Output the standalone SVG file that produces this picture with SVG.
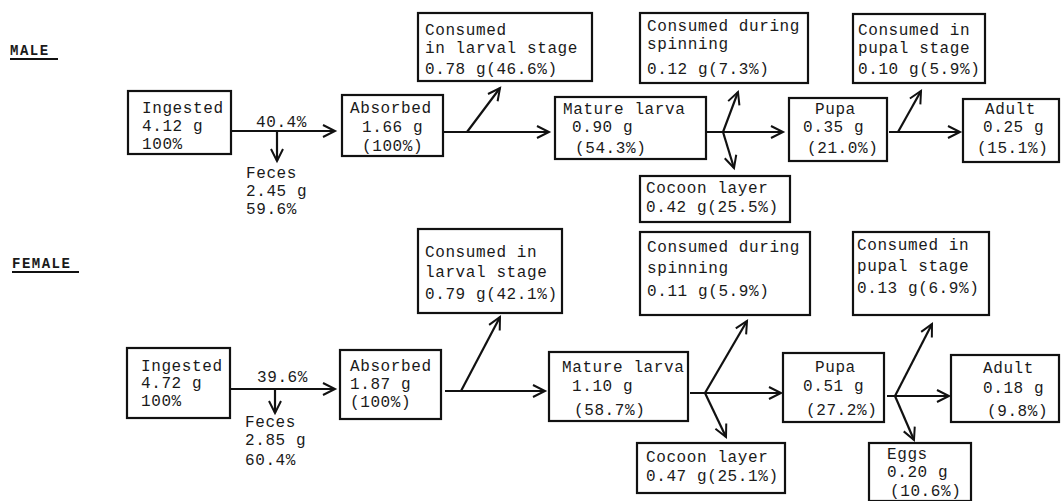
<svg xmlns="http://www.w3.org/2000/svg" width="1061" height="501" viewBox="0 0 1061 501">
<defs>
<marker id="arr" markerUnits="userSpaceOnUse" markerWidth="16" markerHeight="16" refX="13" refY="7" orient="auto" overflow="visible">
<path d="M1,1 L13,7 L1,13" fill="none" stroke="#111" stroke-width="2"/>
</marker>
<style>
rect{fill:none;stroke:#111;stroke-width:2.2}
text{font-family:"Liberation Mono","Courier New",monospace;font-size:16px;letter-spacing:0.6px;fill:#1a1a1a}
.lbl{font-size:14px;font-weight:bold;letter-spacing:1.5px}
.c line{stroke:#111;stroke-width:2.2;fill:none}
.ul{stroke:#111;stroke-width:2}
</style>
</defs>
<rect x="0" y="0" width="1061" height="501" style="fill:#fff;stroke:none"/>
<g id="labels">
<text class="lbl" x="10" y="55">MALE</text>
<line class="ul" x1="10" y1="59" x2="58" y2="59"/>
<text class="lbl" x="12" y="268">FEMALE</text>
<line class="ul" x1="12" y1="272" x2="79" y2="272"/>
</g>
<g class="c" id="connectors">
<line x1="231" y1="131" x2="335" y2="131" marker-end="url(#arr)"/>
<line x1="277" y1="131" x2="277" y2="161" marker-end="url(#arr)"/>
<line x1="443" y1="132" x2="549" y2="132" marker-end="url(#arr)"/>
<line x1="467" y1="132" x2="500" y2="88" marker-end="url(#arr)"/>
<line x1="706" y1="132" x2="783" y2="132" marker-end="url(#arr)"/>
<line x1="723" y1="132" x2="738" y2="92" marker-end="url(#arr)"/>
<line x1="723" y1="132" x2="734" y2="168" marker-end="url(#arr)"/>
<line x1="889" y1="132" x2="960" y2="132" marker-end="url(#arr)"/>
<line x1="898" y1="132" x2="921" y2="91" marker-end="url(#arr)"/>
<line x1="230" y1="389" x2="335" y2="389" marker-end="url(#arr)"/>
<line x1="275" y1="389" x2="275" y2="413" marker-end="url(#arr)"/>
<line x1="445" y1="391" x2="545" y2="391" marker-end="url(#arr)"/>
<line x1="461" y1="391" x2="500" y2="317" marker-end="url(#arr)"/>
<line x1="690" y1="393" x2="781" y2="393" marker-end="url(#arr)"/>
<line x1="705" y1="393" x2="747" y2="321" marker-end="url(#arr)"/>
<line x1="705" y1="393" x2="726" y2="437" marker-end="url(#arr)"/>
<line x1="887" y1="396" x2="949" y2="396" marker-end="url(#arr)"/>
<line x1="895" y1="396" x2="932" y2="324" marker-end="url(#arr)"/>
<line x1="895" y1="396" x2="914" y2="440" marker-end="url(#arr)"/>
</g>
<g id="m-ingested"><rect x="128" y="91" width="103" height="63"/>
<text x="142" y="113">Ingested</text><text x="142" y="131">4.12 g</text><text x="142" y="149">100%</text></g>
<g id="m-feces"><text x="246" y="178">Feces</text><text x="246" y="196">2.45 g</text><text x="246" y="214">59.6%</text></g>
<g id="m-pct"><text x="256" y="127">40.4%</text></g>
<g id="m-absorbed"><rect x="342" y="95" width="101" height="61"/>
<text x="350" y="113">Absorbed</text><text x="362" y="132">1.66 g</text><text x="362" y="151">(100%)</text></g>
<g id="m-larval"><rect x="418" y="13" width="174" height="68"/>
<text x="425" y="35">Consumed</text><text x="425" y="53">in larval stage</text><text x="425" y="74">0.78 g(46.6%)</text></g>
<g id="m-mature"><rect x="555" y="97" width="151" height="62"/>
<text x="563" y="114">Mature larva</text><text x="572" y="132">0.90 g</text><text x="575" y="153">(54.3%)</text></g>
<g id="m-spinning"><rect x="640" y="13" width="168" height="70"/>
<text x="647" y="31">Consumed during</text><text x="647" y="49">spinning</text><text x="647" y="74">0.12 g(7.3%)</text></g>
<g id="m-cocoon"><rect x="640" y="176" width="150" height="46"/>
<text x="646" y="193">Cocoon layer</text><text x="646" y="212">0.42 g(25.5%)</text></g>
<g id="m-pupa"><rect x="789" y="98" width="98" height="63"/>
<text x="815" y="114">Pupa</text><text x="803" y="132">0.35 g</text><text x="807" y="153">(21.0%)</text></g>
<g id="m-pupal"><rect x="853" y="14" width="132" height="69"/>
<text x="858" y="35">Consumed in</text><text x="858" y="53">pupal stage</text><text x="858" y="74">0.10 g(5.9%)</text></g>
<g id="m-adult"><rect x="963" y="99" width="96" height="63"/>
<text x="985" y="114">Adult</text><text x="983" y="132">0.25 g</text><text x="977" y="153">(15.1%)</text></g>
<g id="f-ingested"><rect x="127" y="348" width="103" height="70"/>
<text x="141" y="371">Ingested</text><text x="141" y="388">4.72 g</text><text x="141" y="406">100%</text></g>
<g id="f-pct"><text x="257" y="382">39.6%</text></g>
<g id="f-feces"><text x="245" y="427">Feces</text><text x="245" y="445">2.85 g</text><text x="245" y="465">60.4%</text></g>
<g id="f-absorbed"><rect x="340" y="350" width="101" height="69"/>
<text x="350" y="371">Absorbed</text><text x="350" y="389">1.87 g</text><text x="350" y="407">(100%)</text></g>
<g id="f-larval"><rect x="418" y="229" width="144" height="84"/>
<text x="425" y="257">Consumed in</text><text x="425" y="277">larval stage</text><text x="425" y="299">0.79 g(42.1%)</text></g>
<g id="f-mature"><rect x="549" y="352" width="139" height="69"/>
<text x="562" y="372">Mature larva</text><text x="572" y="391">1.10 g</text><text x="574" y="415">(58.7%)</text></g>
<g id="f-spinning"><rect x="640" y="232" width="170" height="83"/>
<text x="647" y="252">Consumed during</text><text x="647" y="273">spinning</text><text x="647" y="296">0.11 g(5.9%)</text></g>
<g id="f-cocoon"><rect x="637" y="443" width="148" height="50"/>
<text x="646" y="462">Cocoon layer</text><text x="646" y="481">0.47 g(25.1%)</text></g>
<g id="f-pupa"><rect x="783" y="353" width="101" height="69"/>
<text x="815" y="372">Pupa</text><text x="803" y="391">0.51 g</text><text x="806" y="415">(27.2%)</text></g>
<g id="f-pupal"><rect x="853" y="232" width="136" height="83"/>
<text x="857" y="250">Consumed in</text><text x="857" y="271">pupal stage</text><text x="857" y="293">0.13 g(6.9%)</text></g>
<g id="f-adult"><rect x="951" y="355" width="108" height="67"/>
<text x="983" y="373">Adult</text><text x="983" y="393">0.18 g</text><text x="987" y="416">(9.8%)</text></g>
<g id="f-eggs"><rect x="869" y="443" width="102" height="58"/>
<text x="887" y="459">Eggs</text><text x="887" y="477">0.20 g</text><text x="890" y="496">(10.6%)</text></g>
</svg>
